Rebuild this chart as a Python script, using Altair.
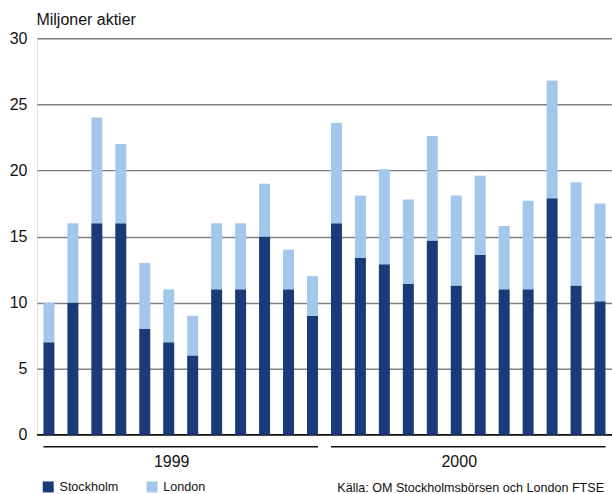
import altair as alt
import pandas as pd

months = list(range(24))
stockholm = [7, 10, 16, 16, 8, 7, 6, 11, 11, 15, 11, 9,
             16.0, 13.4, 12.9, 11.4, 14.7, 11.3, 13.6, 11.0, 11.0, 17.9, 11.3, 10.1]
london = [3, 6, 8, 6, 5, 4, 3, 5, 5, 4, 3, 3,
          7.6, 4.7, 7.2, 6.4, 7.9, 6.8, 6.0, 4.8, 6.7, 8.9, 7.8, 7.4]
series = ["Stockholm", "London"]
colors = ["#1b3a78", "#a3c7ea"]
years = ["1999", "2000"]
year_start = [0, 12]
year_end = [11, 23]
y_ticks = [0, 5, 10, 15, 20, 25, 30]

rows = []
for i, m in enumerate(months):
    rows.append({"m": m, "serie": series[0], "ord": 0, "v": stockholm[i]})
    rows.append({"m": m, "serie": series[1], "ord": 1, "v": london[i]})
df = pd.DataFrame(rows)
years_df = pd.DataFrame({"year": years, "start": year_start, "end": year_end,
                         "mid": [s + 5 for s in year_start]})

FONT = "Liberation Sans"
xscale = alt.Scale(domain=months, paddingInner=13 / 24, paddingOuter=13 / 48)
yscale = alt.Scale(domain=[0, 30], nice=False)

bars = alt.Chart(df).mark_bar().encode(
    x=alt.X("m:O", scale=xscale, axis=None),
    y=alt.Y("sum(v):Q", scale=yscale, stack="zero",
            axis=alt.Axis(values=y_ticks, title="Miljoner aktier", titleAngle=0,
                          titleAlign="left", titleBaseline="alphabetic",
                          titleX=-1, titleY=-14, titleFont=FONT, titleFontSize=16,
                          titleFontWeight="normal", titleColor="#111",
                          labelFont=FONT, labelFontSize=16, labelColor="#111",
                          labelPadding=10, ticks=False, domain=False,
                          grid=True, gridColor="#808080", gridWidth=1.5)),
    color=alt.Color("serie:N", scale=alt.Scale(domain=series, range=colors),
                    legend=alt.Legend(orient="none", legendX=5, legendY=443,
                                      direction="horizontal", title=None,
                                      symbolType="square", symbolSize=121,
                                      symbolStrokeWidth=0, labelFont=FONT,
                                      labelFontSize=12.6, labelColor="#111",
                                      columnPadding=27, labelOffset=5)),
    order=alt.Order("ord:Q"),
)

zero = alt.Chart(pd.DataFrame({"z": [0]})).mark_rule(color="#111", strokeWidth=1.5).encode(
    y=alt.Y("z:Q", scale=yscale), x=alt.value(0), x2=alt.value(576))

year_rules = alt.Chart(years_df).mark_rule(color="#111", strokeWidth=1.5,
                                           xOffset=-5.5, x2Offset=5.5).encode(
    x=alt.X("start:O", scale=xscale), x2="end:O", y=alt.value(409))

year_text = alt.Chart(years_df).mark_text(font=FONT, fontSize=16, color="#111",
                                          dx=3, baseline="alphabetic").encode(
    x=alt.X("mid:O", scale=xscale), y=alt.value(429), text="year:N")

source = alt.Chart(pd.DataFrame({"t": ["Källa: OM Stockholmsbörsen och London FTSE"]})).mark_text(
    font=FONT, fontSize=12.6, color="#111", align="right", baseline="alphabetic").encode(
    x=alt.value(568), y=alt.value(454), text="t:N")

chart = alt.layer(zero, bars, year_rules, year_text, source).properties(
    width=576, height=397, autosize="none",
    padding={"left": 37, "top": 38, "right": 0, "bottom": 59},
).configure_view(stroke=None).configure(background="white")

chart.save("out.html", embed_options={"renderer": "svg", "actions": False})
